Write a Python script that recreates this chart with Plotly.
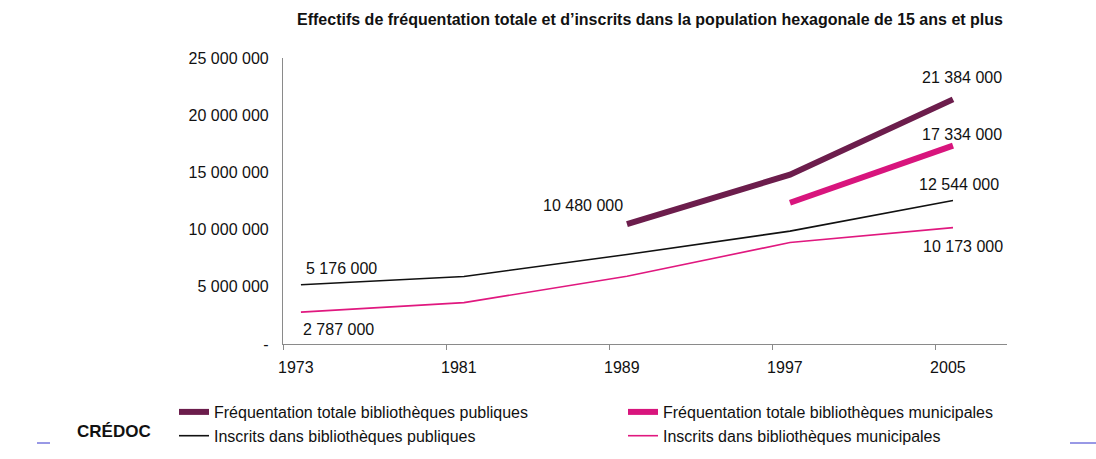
import plotly.graph_objects as go

years = [1973, 1981, 1989, 1997, 2005]
freq_pub = [None, None, 10480000, 14800000, 21384000]
freq_mun = [None, None, None, 12350000, 17334000]
insc_pub = [5176000, 5900000, 7820000, 9870000, 12544000]
insc_mun = [2787000, 3620000, 5920000, 8870000, 10173000]

names = ["Fréquentation totale bibliothèques publiques",
         "Fréquentation totale bibliothèques municipales",
         "Inscrits dans bibliothèques publiques",
         "Inscrits dans bibliothèques municipales"]
colors = ["#6C1D4C", "#D8157D", "#111111", "#E0187F"]
widths = [6, 6, 1.6, 1.6]
series = [freq_pub, freq_mun, insc_pub, insc_mun]

y_ticks = [0, 5000000, 10000000, 15000000, 20000000, 25000000]
y_ticktext = ["-", "5 000 000", "10 000 000", "15 000 000", "20 000 000", "25 000 000"]

def fmt(v):
    return f"{v:,}".replace(",", " ")

FONT = "Liberation Sans, Arial, sans-serif"

fig = go.Figure()
for nm, s, c, w in zip(names, series, colors, widths):
    fig.add_trace(go.Scatter(x=years, y=s, mode="lines", name=nm,
                             line=dict(color=c, width=w), connectgaps=False,
                             hoverinfo="skip"))

# data labels: (year, value, xshift, yshift)
labels = [
    (2005, freq_pub[4], 9, 22),
    (2005, freq_mun[4], 9, 11),
    (2005, insc_pub[4], 6, 16),
    (2005, insc_mun[4], 10, -19),
    (1989, freq_pub[2], -44, 19),
    (1973, insc_pub[0], 41, 16),
    (1973, insc_mun[0], 38, -17),
]
for yr, v, xs, ys in labels:
    fig.add_annotation(x=yr, y=v, text=fmt(v), showarrow=False,
                       xshift=xs, yshift=ys,
                       font=dict(family=FONT, size=16, color="#111"))

tick_off = -0.88
label_off = -0.25

fig.update_layout(
    width=1096, height=459,
    margin=dict(l=283, r=89, t=58, b=115, autoexpand=False),
    paper_bgcolor="white", plot_bgcolor="white",
    title=dict(text="<b>Effectifs de fréquentation totale et d’inscrits dans la population hexagonale de 15 ans et plus</b>",
               x=650/1096, xanchor="center", y=1 - 19/459, yanchor="middle",
               font=dict(family=FONT, size=16, color="#111")),
    xaxis=dict(range=[years[0] + tick_off, years[-1] + 2.65],
               tickvals=[y + label_off for y in years],
               ticktext=[str(y) for y in years],
               ticks="", showgrid=False, zeroline=False, automargin=False,
               showline=True, linecolor="#8a8a8a", linewidth=1.2,
               ticklabelstandoff=9,
               tickfont=dict(family=FONT, size=16, color="#111"),
               minor=dict(tickvals=[y + tick_off for y in years], ticks="outside",
                          ticklen=5, tickcolor="#8a8a8a", tickwidth=1, showgrid=False)),
    yaxis=dict(range=[0, 25000000], tickvals=y_ticks, ticktext=y_ticktext,
               ticks="", showgrid=False, zeroline=False, automargin=False,
               showline=True, linecolor="#8a8a8a", linewidth=1.2,
               ticklabelstandoff=10,
               tickfont=dict(family=FONT, size=16, color="#111")),
    legend=dict(orientation="h", x=(174 - 283) / 724, xanchor="left",
                y=-(395 - 344) / 286, yanchor="top", entrywidth=404, entrywidthmode="pixels",
                font=dict(family=FONT, size=16, color="#111"),
                tracegroupgap=0, itemwidth=30, bgcolor="rgba(0,0,0,0)"),
    showlegend=True,
)

# CREDOC logo text and small blue marks
fig.add_annotation(xref="paper", yref="paper", x=(75 - 283) / 724, y=-(443 - 344) / 286,
                   text="<b>CRÉDOC</b>", showarrow=False,
                   font=dict(family="Liberation Sans Narrow, Arial Narrow, sans-serif", size=17, color="#111"))
fig.add_shape(type="line", xref="paper", yref="paper",
              x0=(37 - 283) / 724, x1=(50 - 283) / 724, y0=-(443 - 344) / 286, y1=-(443 - 344) / 286,
              line=dict(color="#3333cc", width=1))
fig.add_shape(type="line", xref="paper", yref="paper",
              x0=(1070 - 283) / 724, x1=(1096 - 283) / 724, y0=-(443 - 344) / 286, y1=-(443 - 344) / 286,
              line=dict(color="#3333cc", width=1))

fig.write_html("out.html", config={"displayModeBar": False},
               post_script="document.body.style.margin='0';document.body.style.overflow='hidden';")
